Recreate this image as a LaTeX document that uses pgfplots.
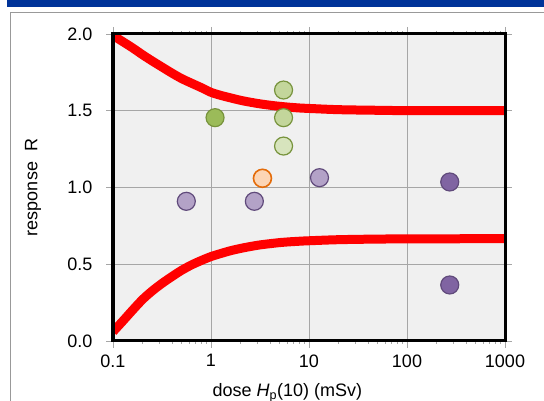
\documentclass[border=0pt]{standalone}
\usepackage{pgfplots}
\pgfplotsset{compat=1.18}
\usepackage{fontspec}
\setmainfont{Liberation Sans}
\definecolor{bgfill}{HTML}{F0F0F0}
\definecolor{hdrblue}{HTML}{003399}
\definecolor{gfill1}{HTML}{9BBB59}
\definecolor{gfill2}{HTML}{C3D69B}
\definecolor{gfill3}{HTML}{D7E4BD}
\definecolor{gedge}{HTML}{77933C}
\definecolor{ofill}{HTML}{FCD5B5}
\definecolor{oedge}{HTML}{E46C0A}
\definecolor{pfill1}{HTML}{B3A2C7}
\definecolor{pfill2}{HTML}{8064A2}
\definecolor{pedge}{HTML}{604A7B}
\definecolor{gridgray}{HTML}{A6A6A6}
\begin{document}
\begin{tikzpicture}
\fill[hdrblue] (7pt,394pt) rectangle (544pt,401pt);
\draw[gray!80, line width=1pt] (10.5pt,0pt) -- (10.5pt,388.5pt) -- (544pt,388.5pt);
\begin{axis}[
  at={(113pt,60pt)}, anchor=south west,
  scale only axis, width=392pt, height=307pt,
  xmode=log, xmin=0.1, xmax=1000, ymin=0, ymax=2,
  xtick={0.1,1,10,100,1000}, xticklabels={0.1,1,10,100,1000},
  ytick={0,0.5,1,1.5,2}, yticklabels={0.0,0.5,1.0,1.5,2.0},
  minor xtick={}, log ticks with fixed point,
  every tick label/.append style={font=\fontsize{18}{21}\selectfont},
  every axis label/.append style={font=\fontsize{18}{21}\selectfont},
  /pgf/number format/assume math mode=true,
  tick align=outside, major tick length=7pt,
  tick style={gridgray, line width=0.8pt},
  yticklabel style={xshift=-10pt},
  xticklabel style={yshift=-3pt},
  grid=major, major grid style={gridgray, line width=0.8pt},
  axis line style={draw=black, line width=3pt},
  axis background/.style={fill=bgfill},
  xlabel={dose \textit{H}\textsubscript{p}(10) (mSv)},
  ylabel={response\ \ R},
  xlabel style={at={(axis description cs:0.445,0)}, anchor=base, yshift=-56pt},
  ylabel style={at={(axis description cs:-0.204,0.5)}, anchor=center},
  clip=true,
]
\addplot[red, line width=9pt, smooth, line cap=butt] coordinates {
(0.1,1.99) (0.126,1.95) (0.158,1.91) (0.2,1.865) (0.25,1.825) (0.316,1.785) (0.4,1.745) (0.5,1.71) (0.63,1.68) (0.8,1.65) (1,1.62) (1.26,1.60) (1.58,1.584) (2,1.568) (2.5,1.556) (3.16,1.545) (4,1.536) (5,1.529) (6.3,1.523) (8,1.518) (10,1.515) (20,1.507) (50,1.503) (100,1.501) (1000,1.50)
};
\addplot[red, line width=9pt, smooth, line cap=butt] coordinates {
(0.1,0.06) (0.126,0.13) (0.158,0.20) (0.2,0.27) (0.25,0.325) (0.316,0.375) (0.4,0.42) (0.5,0.46) (0.63,0.495) (0.8,0.525) (1,0.55) (1.26,0.57) (1.58,0.588) (2,0.603) (2.5,0.615) (3.16,0.626) (4,0.634) (5,0.641) (6.3,0.646) (8,0.650) (10,0.653) (20,0.660) (50,0.664) (100,0.665) (1000,0.667)
};
\addplot[only marks, mark=*, mark size=9pt, mark options={fill=gfill1, draw=gedge, line width=1.2pt}] coordinates {(1.1,1.455)};
\addplot[only marks, mark=*, mark size=9pt, mark options={fill=gfill2, draw=gedge, line width=1.2pt}] coordinates {(5.5,1.635) (5.5,1.455)};
\addplot[only marks, mark=*, mark size=9pt, mark options={fill=gfill3, draw=gedge, line width=1.2pt}] coordinates {(5.5,1.27)};
\addplot[only marks, mark=*, mark size=9pt, mark options={fill=ofill, draw=oedge, line width=1.6pt}] coordinates {(3.35,1.06)};
\addplot[only marks, mark=*, mark size=9pt, mark options={fill=pfill1, draw=pedge, line width=1.2pt}] coordinates {(0.56,0.91) (2.77,0.91) (12.8,1.064)};
\addplot[only marks, mark=*, mark size=9pt, mark options={fill=pfill2, draw=pedge, line width=1.2pt}] coordinates {(273,1.036) (273,0.365)};
\end{axis}
\draw[draw=black, line width=3pt] (113pt,60pt) rectangle (505pt,367pt);
\pgfresetboundingbox
\path (0,0) rectangle (544pt,401pt);
\end{tikzpicture}
\end{document}
